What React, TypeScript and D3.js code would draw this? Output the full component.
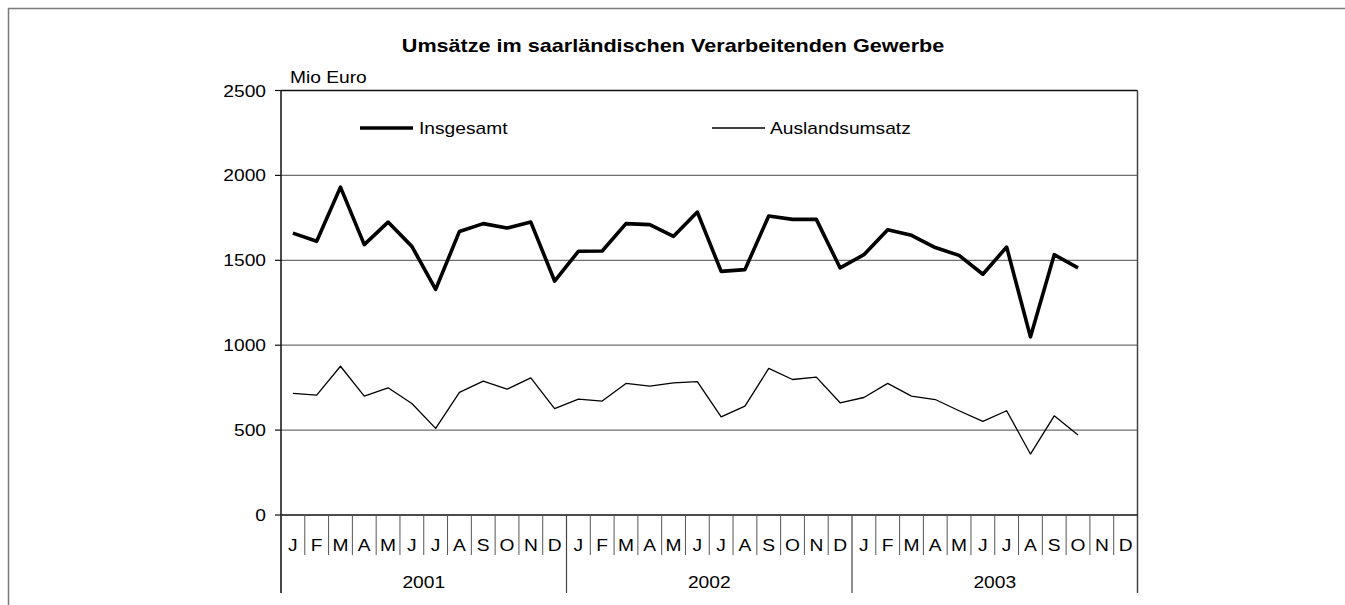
import React from 'react'
import * as d3 from 'd3'

const monthLetters = ['J', 'F', 'M', 'A', 'M', 'J', 'J', 'A', 'S', 'O', 'N', 'D']
const years = ['2001', '2002', '2003']
const yTicks = [0, 500, 1000, 1500, 2000, 2500]

// Insgesamt (Mio Euro)
const total2001 = [1660, 1612, 1931, 1592, 1725, 1582, 1329, 1670, 1716, 1690, 1725, 1378]
const total2002 = [1553, 1555, 1716, 1710, 1641, 1784, 1435, 1445, 1761, 1741, 1741, 1455]
const total2003 = [1533, 1680, 1647, 1575, 1529, 1418, 1578, 1049, 1533, 1455]

// Auslandsumsatz (Mio Euro)
const foreign2001 = [716, 706, 876, 700, 749, 657, 510, 722, 788, 741, 808, 627]
const foreign2002 = [682, 671, 775, 759, 778, 786, 578, 641, 863, 798, 812, 661]
const foreign2003 = [692, 775, 700, 680, 614, 551, 614, 359, 584, 471]

const FONT = '"Liberation Sans", Arial, sans-serif'
const SX = 1.2 // the original picture is stretched horizontally

const T = ({ x, y, anchor = 'start', size = 16, weight = 'normal', children }: any) => (
  <text
    transform={`translate(${x},${y}) scale(${SX},1)`}
    textAnchor={anchor}
    fontFamily={FONT}
    fontSize={size}
    fontWeight={weight}
    fill="#000"
  >
    {children}
  </text>
)

export default function App() {
  const left = 281, right = 1137.5, top = 90.5, bottom = 515

  const slots = years.flatMap(yr => monthLetters.map((m, i) => `${yr}-${i}`))
  const x = d3.scaleBand().domain(slots).range([left, right])
  const y = d3.scaleLinear().domain([0, 2500]).range([bottom, top])

  const total = [...total2001, ...total2002, ...total2003]
  const foreign = [...foreign2001, ...foreign2002, ...foreign2003]

  const cx = (i: number) => (x(slots[i]) as number) + x.bandwidth() / 2
  const line = d3.line<number>().x((d, i) => cx(i)).y(d => y(d))

  const yearW = x.bandwidth() * 12

  return (
    <svg width={1345} height={605} style={{ position: 'absolute', left: 0, top: 0, background: '#fff' }}>
      <rect x={8.5} y={8.5} width={1400} height={700} fill="none" stroke="#7a7a7a" strokeWidth={1.5} />

      <T x={673} y={52} anchor="middle" size={18} weight="bold">
        Umsätze im saarländischen Verarbeitenden Gewerbe
      </T>
      <T x={290} y={83}>Mio Euro</T>

      {/* gridlines */}
      {yTicks.filter(t => t > 0 && t < 2500).map(t => (
        <line key={t} x1={left} x2={right} y1={y(t)} y2={y(t)} stroke="#6e6e6e" strokeWidth={1.2} />
      ))}

      {/* plot frame */}
      <line x1={left} x2={right} y1={top} y2={top} stroke="#111" strokeWidth={1.5} />
      <line x1={right} x2={right} y1={top} y2={593} stroke="#444" strokeWidth={1.5} />
      <line x1={left} x2={left} y1={top} y2={593} stroke="#111" strokeWidth={1.5} />
      <line x1={left} x2={right} y1={bottom} y2={bottom} stroke="#111" strokeWidth={1.5} />

      {/* y axis */}
      {yTicks.map(t => (
        <g key={t}>
          <line x1={left - 6} x2={left} y1={y(t)} y2={y(t)} stroke="#111" strokeWidth={1.2} />
          <T x={266} y={y(t) + 6} anchor="end">{t}</T>
        </g>
      ))}

      {/* x axis: months */}
      {slots.map((s, i) => (
        <g key={s}>
          {i % 12 !== 0 && (
            <line x1={x(s)} x2={x(s)} y1={bottom} y2={555} stroke="#555" strokeWidth={1} />
          )}
          <T x={cx(i)} y={551} anchor="middle">{monthLetters[i % 12]}</T>
        </g>
      ))}
      {years.map((yr, k) => (
        <g key={yr}>
          <line x1={left + k * yearW} x2={left + k * yearW} y1={bottom} y2={593} stroke="#444" strokeWidth={1.2} />
          <T x={left + k * yearW + yearW / 2} y={588} anchor="middle">{yr}</T>
        </g>
      ))}

      {/* series */}
      <path d={line(foreign) || ''} fill="none" stroke="#000" strokeWidth={1.3} strokeLinejoin="round" />
      <path d={line(total) || ''} fill="none" stroke="#000" strokeWidth={3.6} strokeLinejoin="round" />

      {/* legend */}
      <line x1={360} x2={413} y1={128} y2={128} stroke="#000" strokeWidth={3.6} />
      <T x={419} y={134}>Insgesamt</T>
      <line x1={712} x2={765} y1={128} y2={128} stroke="#000" strokeWidth={1.3} />
      <T x={770} y={134}>Auslandsumsatz</T>
    </svg>
  )
}
